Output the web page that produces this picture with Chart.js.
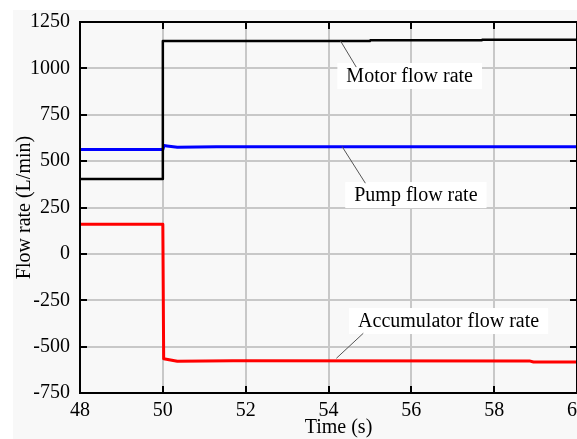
<!DOCTYPE html>
<html><head><meta charset="utf-8">
<script src="https://cdn.jsdelivr.net/npm/chart.js@4.4.1/dist/chart.umd.min.js"></script>
<style>html,body{margin:0;padding:0;overflow:hidden;background:#fff}#wrap{width:600px;height:439px;position:relative}</style>
</head><body><div id="wrap"><canvas id="c" width="600" height="439"></canvas></div>
<script>
// ---- data ----
const xTicks = [48, 50, 52, 54, 56, 58, 60];
const yTicks = [-750, -500, -250, 0, 250, 500, 750, 1000, 1250];

const motorTime = [48, 50, 50, 55, 55.01, 57.7, 57.71, 60];
const motorFlow = [403, 403, 1148, 1148, 1151, 1151, 1154, 1154];

const pumpTime = [48, 50, 50.03, 50.1, 50.35, 51.3, 60];
const pumpFlow = [563, 563, 584, 582, 575, 577, 577];

const accTime = [48, 50, 50.02, 50.35, 51.7, 58.85, 58.95, 60];
const accFlow = [160, 160, -565, -579, -576, -577, -583, -583];

const seriesNames = ['Motor flow rate', 'Pump flow rate', 'Accumulator flow rate'];
// label centre (data coords) and leader line ends (data coords)
const labelX = [55.96, 56.11, 56.90];
const labelY = [959, 317, -362];
const leaderFromX = [54.29, 54.33, 54.19];
const leaderFromY = [1148, 578, -563];
const leaderToX = [54.67, 54.89, 54.84];
const leaderToY = [1007, 381, -428];

const xTitle = 'Time (s)';
const yTitle = 'Flow rate (L/min)';

// ---- chart ----
const FONT = 'Liberation Serif';
Chart.defaults.font.family = FONT;
Chart.defaults.font.size = 20;
Chart.defaults.color = '#000';
const pts = (t, v) => t.map((x, i) => ({x: x, y: v[i]}));

const framePlugin = {
  id: 'frame',
  beforeDraw(chart) {
    const ctx = chart.ctx;
    ctx.save();
    ctx.fillStyle = '#ffffff';
    ctx.fillRect(0, 0, chart.width, chart.height);
    ctx.fillStyle = '#f8f8f8';
    ctx.fillRect(13, 10, chart.width - 13, chart.height - 10);
    ctx.restore();
  },
  afterDatasetsDraw(chart) {
    const ctx = chart.ctx, a = chart.chartArea;
    const xs = chart.scales.x, ys = chart.scales.y;
    ctx.save();
    // inner ticks
    ctx.strokeStyle = '#000'; ctx.lineWidth = 2;
    const L = 7;
    ctx.beginPath();
    xTicks.forEach(v => {
      if (v === xs.min || v === xs.max) return;
      const p = Math.round(xs.getPixelForValue(v));
      ctx.moveTo(p, a.bottom); ctx.lineTo(p, a.bottom - L);
      ctx.moveTo(p, a.top); ctx.lineTo(p, a.top + L);
    });
    yTicks.forEach(v => {
      if (v === ys.min || v === ys.max) return;
      const p = Math.round(ys.getPixelForValue(v));
      ctx.moveTo(a.left, p); ctx.lineTo(a.left + L, p);
      ctx.moveTo(a.right, p); ctx.lineTo(a.right - L, p);
    });
    ctx.stroke();
    // frame
    ctx.strokeRect(a.left, a.top, a.right - a.left, a.bottom - a.top);

    // annotations
    ctx.font = '20px ' + FONT;
    ctx.textAlign = 'center'; ctx.textBaseline = 'middle';
    seriesNames.forEach((name, i) => {
      const cx = xs.getPixelForValue(labelX[i]);
      const cy = ys.getPixelForValue(labelY[i]);
      const w = ctx.measureText(name).width + 18;
      const h = 26;
      ctx.fillStyle = '#ffffff';
      ctx.fillRect(cx - w / 2, cy - h / 2, w, h);
      ctx.strokeStyle = '#555'; ctx.lineWidth = 1;
      ctx.beginPath();
      ctx.moveTo(xs.getPixelForValue(leaderFromX[i]), ys.getPixelForValue(leaderFromY[i]));
      ctx.lineTo(xs.getPixelForValue(leaderToX[i]), ys.getPixelForValue(leaderToY[i]));
      ctx.stroke();
      ctx.fillStyle = '#000';
      ctx.fillText(name, cx, cy + 1);
    });
    // x title
    ctx.fillText(xTitle, (a.left + a.right) / 2 + 10, 428);
    ctx.restore();
  }
};

const tickFont = {family: FONT, size: 20};

new Chart(document.getElementById('c'), {
  type: 'line',
  data: {
    datasets: [
      {label: seriesNames[0], data: pts(motorTime, motorFlow), borderColor: '#000000', borderWidth: 2.5},
      {label: seriesNames[1], data: pts(pumpTime, pumpFlow), borderColor: '#0000ff', borderWidth: 3},
      {label: seriesNames[2], data: pts(accTime, accFlow), borderColor: '#ff0000', borderWidth: 3}
    ]
  },
  options: {
    responsive: false,
    animation: false,
    layout: {padding: {top: 22, right: 23, left: 0, bottom: 0}},
    plugins: {legend: {display: false}, tooltip: {enabled: false}},
    elements: {point: {radius: 0}, line: {tension: 0, fill: false, borderJoinStyle: 'round', borderCapStyle: 'butt'}},
    scales: {
      x: {
        type: 'linear', min: 48, max: 60,
        afterBuildTicks: s => { s.ticks = xTicks.map(v => ({value: v})); },
        afterFit: s => { s.height = 46; },
        ticks: {font: tickFont, color: '#000', padding: 6, maxRotation: 0, autoSkip: false, callback: v => String(v)},
        grid: {color: '#c8c8c8', lineWidth: 2, drawTicks: false},
        border: {display: false}
      },
      y: {
        type: 'linear', min: -750, max: 1250,
        afterBuildTicks: s => { s.ticks = yTicks.map(v => ({value: v})); },
        afterFit: s => { s.width = 80; },
        ticks: {font: tickFont, color: '#000', padding: 10, autoSkip: false, callback: v => String(v)},
        grid: {color: '#c8c8c8', lineWidth: 2, drawTicks: false},
        border: {display: false},
        title: {display: true, text: yTitle, color: '#000', font: tickFont, padding: {top: 13, bottom: 0}}
      }
    }
  },
  plugins: [framePlugin]
});
</script>
</body></html>
